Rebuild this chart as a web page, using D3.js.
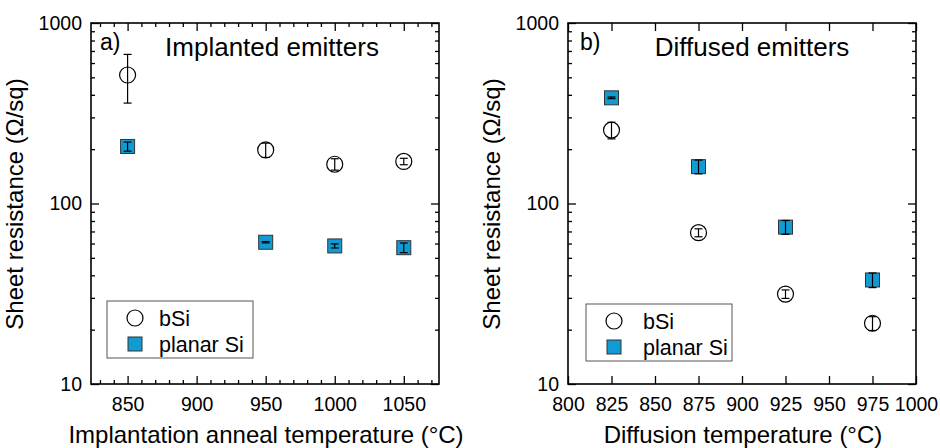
<!DOCTYPE html>
<html>
<head>
<meta charset="utf-8">
<script src="https://cdn.jsdelivr.net/npm/d3@7"></script>
<style>
  body { margin: 0; background: #fff; }
  svg text { font-family: "Liberation Sans", Arial, sans-serif; fill: #000; }
</style>
</head>
<body>
<div id="chart"></div>
<script>
// panel a) implanted emitters
var implTemps = [850, 950, 1000, 1050];
var implBSi = [515, 198, 165, 171];
var implBSiErr = [155, 18, 12, 7];
var implPlanar = [207, 61, 58.2, 56.9];
var implPlanarErr = [12, 0.5, 1.5, 3.5];
var implXTicks = [850, 900, 950, 1000, 1050];

// panel b) diffused emitters
var diffTemps = [825, 875, 925, 975];
var diffBSi = [255, 68.9, 31.5, 21.7];
var diffBSiErr = [27, 3.5, 1.7, 1.9];
var diffPlanar = [385, 160, 74, 37.7];
var diffPlanarErr = [4, 14, 6.5, 3.5];
var diffXTicks = [800, 825, 850, 875, 900, 925, 950, 975, 1000];

var yTicks = [10, 100, 1000];
var blue = "#129bd3";

var svg = d3.select("#chart").append("svg")
  .attr("width", 940).attr("height", 448);

function panel(opt) {
  var g = svg.append("g");
  var x = d3.scaleLinear().domain(opt.xDomain).range([opt.left, opt.right]);
  var y = d3.scaleLog().domain([10, 1000]).range([384, 23]);

  // minor log ticks
  var yMinor = [];
  [10, 100].forEach(function (d) {
    for (var k = 2; k <= 9; k++) yMinor.push(d * k);
  });

  // ticks on all four sides, pointing inward
  g.append("g").attr("transform", "translate(0,384)")
    .call(d3.axisBottom(x).tickValues(opt.xTicks).tickSize(-8).tickFormat(d3.format("d")).tickPadding(13))
    .call(function (a) { a.select(".domain").remove(); a.selectAll("text").attr("font-size", 19.5); });
  g.append("g").attr("transform", "translate(0,23)")
    .call(d3.axisTop(x).tickValues(opt.xTicks).tickSize(-8).tickFormat(""))
    .call(function (a) { a.select(".domain").remove(); });
  if (opt.xMinor) {
    g.append("g").attr("transform", "translate(0,384)")
      .call(d3.axisBottom(x).tickValues(opt.xMinor).tickSize(-4).tickFormat(""))
      .call(function (a) { a.select(".domain").remove(); });
    g.append("g").attr("transform", "translate(0,23)")
      .call(d3.axisTop(x).tickValues(opt.xMinor).tickSize(-4).tickFormat(""))
      .call(function (a) { a.select(".domain").remove(); });
  }
  g.append("g").attr("transform", "translate(" + opt.left + ",0)")
    .call(d3.axisLeft(y).tickValues(yTicks).tickSize(-8).tickFormat(d3.format("d")).tickPadding(9))
    .call(function (a) { a.select(".domain").remove(); a.selectAll("text").attr("font-size", 19.5); });
  g.append("g").attr("transform", "translate(" + opt.left + ",0)")
    .call(d3.axisLeft(y).tickValues(yMinor).tickSize(-4).tickFormat(""))
    .call(function (a) { a.select(".domain").remove(); });
  g.append("g").attr("transform", "translate(" + opt.right + ",0)")
    .call(d3.axisRight(y).tickValues(yTicks).tickSize(-8).tickFormat(""))
    .call(function (a) { a.select(".domain").remove(); });
  g.append("g").attr("transform", "translate(" + opt.right + ",0)")
    .call(d3.axisRight(y).tickValues(yMinor).tickSize(-4).tickFormat(""))
    .call(function (a) { a.select(".domain").remove(); });
  g.selectAll(".tick line").attr("stroke", "#000").attr("stroke-width", 1.3);

  g.append("rect")
    .attr("x", opt.left).attr("y", 23)
    .attr("width", opt.right - opt.left).attr("height", 361)
    .attr("fill", "none").attr("stroke", "#000").attr("stroke-width", 1.6);

  // error bars drawn inside markers
  function errBars(vals, errs, cls) {
    var eb = g.append("g").attr("class", cls);
    opt.temps.forEach(function (t, i) {
      var cx = x(t), y1 = y(vals[i] + errs[i]), y2 = y(vals[i] - errs[i]);
      eb.append("line").attr("x1", cx).attr("x2", cx).attr("y1", y1).attr("y2", y2)
        .attr("stroke", "#000").attr("stroke-width", 1.2);
      [y1, y2].forEach(function (yy) {
        eb.append("line").attr("x1", cx - 4).attr("x2", cx + 4).attr("y1", yy).attr("y2", yy)
          .attr("stroke", "#000").attr("stroke-width", 1.2);
      });
    });
  }

  // planar squares
  g.selectAll(".sq").data(opt.temps).enter().append("rect")
    .attr("class", "sq")
    .attr("x", function (d) { return x(d) - 7; })
    .attr("y", function (d, i) { return y(opt.planar[i]) - 7; })
    .attr("width", 14).attr("height", 14)
    .attr("fill", blue).attr("stroke", "#333").attr("stroke-width", 1);
  errBars(opt.planar, opt.planarErr, "eb-planar");

  // bSi circles
  g.selectAll(".ci").data(opt.temps).enter().append("circle")
    .attr("class", "ci")
    .attr("cx", function (d) { return x(d); })
    .attr("cy", function (d, i) { return y(opt.bsi[i]); })
    .attr("r", 8)
    .attr("fill", "none").attr("stroke", "#000").attr("stroke-width", 1.2);
  errBars(opt.bsi, opt.bsiErr, "eb-bsi");

  // labels
  g.append("text").attr("x", opt.left + opt.tagDx).attr("y", 50).attr("font-size", 23).text(opt.tag);
  g.append("text").attr("x", opt.titleX).attr("y", 56).attr("font-size", 26).attr("text-anchor", "middle").text(opt.title);
  g.append("text").attr("x", (opt.left + opt.right) / 2 + 1).attr("y", 443)
    .attr("font-size", 24).attr("text-anchor", "middle").text(opt.xLabel);
  g.append("text")
    .attr("transform", "translate(" + (opt.left - 68) + ",204) rotate(-90)")
    .attr("font-size", 24).attr("text-anchor", "middle").text("Sheet resistance (Ω/sq)");

  // legend
  var lg = g.append("g").attr("transform", "translate(" + opt.legX + "," + opt.legY + ")");
  lg.append("rect").attr("width", 146).attr("height", 57)
    .attr("fill", "#fff").attr("stroke", "#555").attr("stroke-width", 1);
  lg.append("circle").attr("cx", 28).attr("cy", 17).attr("r", 8)
    .attr("fill", "none").attr("stroke", "#000").attr("stroke-width", 1.2);
  lg.append("rect").attr("x", 21).attr("y", 36).attr("width", 14).attr("height", 14)
    .attr("fill", blue).attr("stroke", "#333");
  lg.append("text").attr("x", opt.legTextX).attr("y", 25).attr("font-size", 21.5).text("bSi");
  lg.append("text").attr("x", opt.legTextX).attr("y", 51).attr("font-size", 21.5).text("planar Si");
}

var implMinor = d3.range(830, 1080, 10).filter(function (d) { return d % 50 !== 0; });

panel({
  left: 91, right: 439, xDomain: [823.5, 1075.5],
  xTicks: implXTicks, xMinor: implMinor,
  temps: implTemps, bsi: implBSi, bsiErr: implBSiErr, planar: implPlanar, planarErr: implPlanarErr,
  tag: "a)", tagDx: 9, title: "Implanted emitters", titleX: 272,
  xLabel: "Implantation anneal temperature (°C)",
  legX: 107, legY: 301, legTextX: 52
});

panel({
  left: 568, right: 916, xDomain: [800, 1000],
  xTicks: diffXTicks, xMinor: null,
  temps: diffTemps, bsi: diffBSi, bsiErr: diffBSiErr, planar: diffPlanar, planarErr: diffPlanarErr,
  tag: "b)", tagDx: 12, title: "Diffused emitters", titleX: 752,
  xLabel: "Diffusion temperature (°C)",
  legX: 586, legY: 304, legTextX: 57
});
</script>
</body>
</html>
